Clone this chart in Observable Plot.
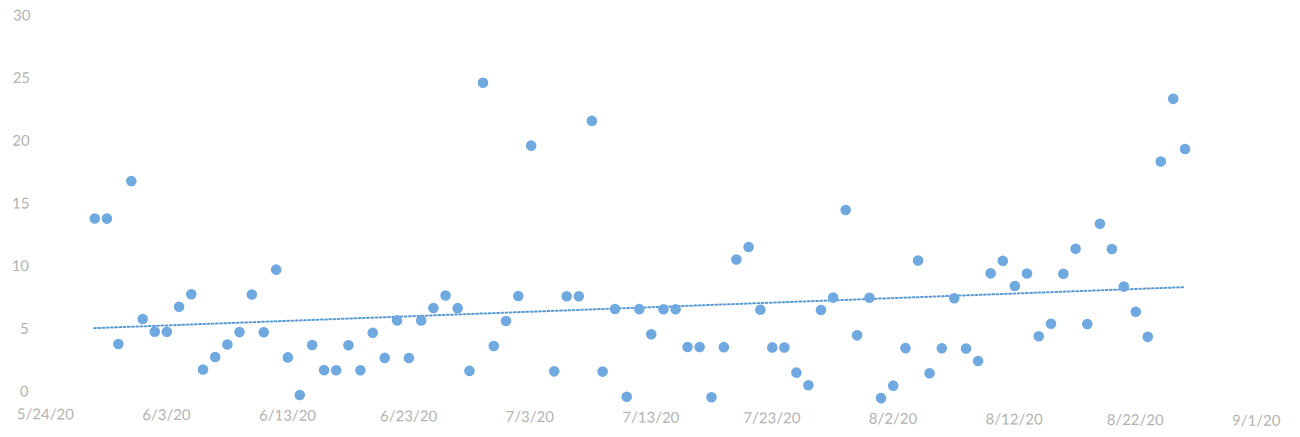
<!DOCTYPE html>
<html>
<head>
<meta charset="utf-8">
<script src="https://cdn.jsdelivr.net/npm/d3@7"></script>
<script src="https://cdn.jsdelivr.net/npm/@observablehq/plot@0.6"></script>
<style>
  html, body { margin: 0; padding: 0; background: #fff; overflow: hidden; }
  #chart { width: 1300px; height: 437px; }
  /* the reference picture is very slightly tilted clockwise */
  #chart svg { transform: rotate(0.3deg); transform-origin: 0 0; }
</style>
</head>
<body>
<div id="chart"></div>
<script>
// Dates of the observations (7/4 missing)
const dates = [
  "2020-05-28","2020-05-29","2020-05-30","2020-05-31",
  "2020-06-01","2020-06-02","2020-06-03","2020-06-04","2020-06-05","2020-06-06","2020-06-07","2020-06-08","2020-06-09","2020-06-10",
  "2020-06-11","2020-06-12","2020-06-13","2020-06-14","2020-06-15","2020-06-16","2020-06-17","2020-06-18","2020-06-19","2020-06-20",
  "2020-06-21","2020-06-22","2020-06-23","2020-06-24","2020-06-25","2020-06-26","2020-06-27","2020-06-28","2020-06-29","2020-06-30",
  "2020-07-01","2020-07-02","2020-07-03","2020-07-05","2020-07-06","2020-07-07","2020-07-08","2020-07-09","2020-07-10",
  "2020-07-11","2020-07-12","2020-07-13","2020-07-14","2020-07-15","2020-07-16","2020-07-17","2020-07-18","2020-07-19","2020-07-20",
  "2020-07-21","2020-07-22","2020-07-23","2020-07-24","2020-07-25","2020-07-26","2020-07-27","2020-07-28","2020-07-29","2020-07-30","2020-07-31",
  "2020-08-01","2020-08-02","2020-08-03","2020-08-04","2020-08-05","2020-08-06","2020-08-07","2020-08-08","2020-08-09","2020-08-10",
  "2020-08-11","2020-08-12","2020-08-13","2020-08-14","2020-08-15","2020-08-16","2020-08-17","2020-08-18","2020-08-19","2020-08-20",
  "2020-08-21","2020-08-22","2020-08-23","2020-08-24","2020-08-25","2020-08-26"
];

// Observed values
const values = [
  14,14,4,17,
  6,5,5,7,8,2,3,4,5,8,
  5,10,3,0,4,2,2,4,2,5,
  3,6,3,6,7,8,7,2,25,4,
  6,8,20,2,8,8,22,2,7,
  0,7,5,7,7,4,4,0,4,11,
  12,7,4,4,2,1,7,8,15,5,8,
  0,1,4,11,2,4,8,4,3,10,
  11,9,10,5,6,10,12,6,14,12,
  9,7,5,19,24,20
];

// Axis ticks
const xTicks = ["2020-05-24","2020-06-03","2020-06-13","2020-06-23","2020-07-03","2020-07-13","2020-07-23","2020-08-02","2020-08-12","2020-08-22","2020-09-01"];
const yTicks = [0, 5, 10, 15, 20, 25, 30];

const data = dates.map((d, i) => ({date: new Date(d + "T00:00:00Z"), value: values[i]}));
const fmt = d => `${d.getUTCMonth() + 1}/${d.getUTCDate()}/${String(d.getUTCFullYear()).slice(2)}`;

const chart = Plot.plot({
  width: 1300,
  height: 437,
  marginLeft: 47,
  marginRight: 42,
  marginTop: 17,
  marginBottom: 44,
  style: {fontFamily: "Lato, sans-serif", fontSize: "15px", color: "#b3b3b3", background: "#fff", overflow: "visible"},
  x: {type: "utc", domain: [new Date(xTicks[0] + "T00:00:00Z"), new Date(xTicks[xTicks.length - 1] + "T00:00:00Z")]},
  y: {domain: [0, 30]},
  marks: [
    Plot.axisX(xTicks.map(t => new Date(t + "T00:00:00Z")), {tickSize: 0, tickPadding: 15, tickFormat: fmt, label: null, fill: "#b3b3b3"}),
    Plot.axisY(yTicks, {tickSize: 0, tickPadding: 17, label: null, dy: -2, fill: "#b3b3b3"}),
    Plot.linearRegressionY(data, {x: "date", y: "value", ci: 0, stroke: "#5b9bd5", strokeWidth: 2, strokeDasharray: "1.8,2.4"}),
    Plot.dot(data, {x: "date", y: "value", r: 5.3, fill: "#70a8e0", stroke: "none"})
  ]
});
document.getElementById("chart").appendChild(chart);
</script>
</body>
</html>
